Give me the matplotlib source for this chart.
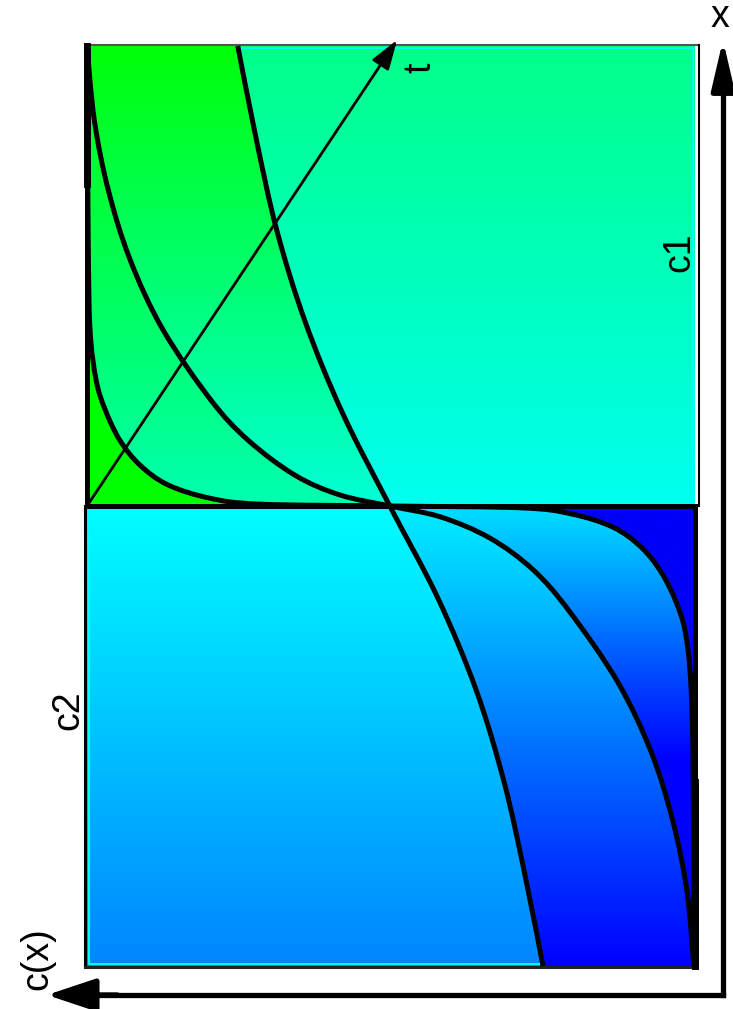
import matplotlib as mpl
mpl.use('Agg')
import matplotlib.pyplot as plt
from matplotlib.patches import PathPatch
from matplotlib.path import Path
from matplotlib.colors import LinearSegmentedColormap
import numpy as np

plt.rcParams['font.family'] = ['Liberation Sans', 'DejaVu Sans']

# concentration profiles c(x) for three times, c in [0, 1], x in [-1, 1]
# t1 (shortest time)
t1_x_up = [1.0, 0.578, 0.383, 0.274, 0.209, 0.143, 0.089, 0.046, 0.017, 0.004, 0.0]
t1_c_up = [1.0, 0.998, 0.995, 0.985, 0.970, 0.946, 0.913, 0.867, 0.798, 0.715, 0.502]
t1_x_lo = [0.0, -0.004, -0.017, -0.046, -0.089, -0.143, -0.209, -0.274, -0.383, -0.578, -1.0]
t1_c_lo = [0.502, 0.286, 0.204, 0.135, 0.089, 0.056, 0.031, 0.016, 0.007, 0.003, 0.002]
# t2
t2_x_up = [1.0, 0.839, 0.687, 0.535, 0.383, 0.230, 0.143, 0.067, 0.024, 0.0]
t2_c_up = [1.0, 0.988, 0.965, 0.929, 0.875, 0.796, 0.735, 0.658, 0.584, 0.502]
t2_x_lo = [0.0, -0.024, -0.070, -0.139, -0.230, -0.383, -0.535, -0.687, -0.839, -1.0]
t2_c_lo = [0.502, 0.418, 0.337, 0.266, 0.206, 0.127, 0.072, 0.036, 0.013, 0.002]
# t3 (longest time)
t3_x_up = [1.0, 0.8, 0.6, 0.4, 0.2, 0.0]
t3_c_up = [0.752, 0.722, 0.688, 0.641, 0.579, 0.502]
t3_x_lo = [0.0, -0.2, -0.4, -0.6, -0.8, -1.0]
t3_c_lo = [0.502, 0.423, 0.360, 0.314, 0.280, 0.250]


def bezier_ctrl(cs, xs):
    # cubic bezier control points of a catmull-rom curve through the points
    p = np.column_stack([cs, xs]).astype(float)
    ext = np.vstack([p[0], p, p[-1]])
    v = [p[0]]
    for i in range(len(p) - 1):
        a, b, c, d = ext[i], ext[i + 1], ext[i + 2], ext[i + 3]
        v += [b + (c - a) / 6, c - (d - b) / 6, c]
    return np.array(v)


def profile(cu, xu, cl, xl):
    v = bezier_ctrl(cu + cl[1:], xu + xl[1:])
    m = 3 * (len(cu) - 1)
    return v, v[:m + 1], v[m:]


def region(pieces):
    verts, codes = [], []
    for kind, v in pieces:
        v = np.asarray(v, float)
        if kind == 'curve':
            verts.append(v[0])
            codes.append(Path.LINETO if codes else Path.MOVETO)
            verts.extend(v[1:])
            codes.extend([Path.CURVE4] * (len(v) - 1))
        else:
            for q in v:
                verts.append(q)
                codes.append(Path.LINETO if codes else Path.MOVETO)
    verts.append(verts[0])
    codes.append(Path.CLOSEPOLY)
    return Path(verts, codes)


def grad_fill(ax, path, stops, x_top, x_bot):
    patch = PathPatch(path, facecolor='none', edgecolor='none')
    ax.add_patch(patch)
    cmap = LinearSegmentedColormap.from_list('g', stops)
    im = ax.imshow(np.linspace(0, 1, 256).reshape(-1, 1), cmap=cmap, vmin=0, vmax=1,
                   extent=(1.01, -0.01, x_bot, x_top), aspect='auto', interpolation='bilinear',
                   zorder=1)
    im.set_clip_path(patch)


fig = plt.figure(figsize=(7.33, 10.09), dpi=100)
ax = fig.add_axes([0, 0, 1, 1])
ax.set_axis_off()

t1, t1u, t1l = profile(t1_c_up, t1_x_up, t1_c_lo, t1_x_lo)
t2, t2u, t2l = profile(t2_c_up, t2_x_up, t2_c_lo, t2_x_lo)
t3, t3u, t3l = profile(t3_c_up, t3_x_up, t3_c_lo, t3_x_lo)

# x > 0 half
grad_fill(ax, region([('line', [(1, 0), (1, 1)]), ('curve', t1u)]),
          ['#00ff00', '#00ff00'], 1, 0)
grad_fill(ax, region([('curve', t1u), ('curve', t2u[::-1])]),
          ['#00ff00', '#00ffb0'], 1, 0)
grad_fill(ax, region([('curve', t2u), ('curve', t3u[::-1])]),
          ['#00ff08', '#00ffd8'], 1, 0)
grad_fill(ax, region([('curve', t3u), ('line', [(0, 0), (0, 1)])]),
          ['#00ff88', '#00fff0'], 1, 0)

# x < 0 half
grad_fill(ax, region([('line', [(1, 0)]), ('curve', t3l), ('line', [(1, -1)])]),
          ['#00ffff', '#0085ff'], 0, -1)
grad_fill(ax, region([('curve', t3l), ('curve', t2l[::-1])]),
          ['#00f0ff', '#0000ff'], 0, -1)
grad_fill(ax, region([('curve', t2l), ('curve', t1l[::-1])]),
          [(0, '#00e0ff'), (0.55, '#0000ff'), (1, '#0000ff')], 0, -1)
grad_fill(ax, region([('curve', t1l), ('line', [(0, 0)])]),
          ['#0000f8', '#0000f8'], 0, -1)

# light rims along the frame
ax.plot([0.75, 0.003, 0.003], [0.995, 0.995, 0.005], color='#00ffff', lw=1.2, zorder=2)
ax.plot([0.997, 0.997, 0.25], [-0.005, -0.995, -0.995], color='#00ffff', lw=1.4, zorder=2)

# frame
ax.plot([1, -0.006], [1.002, 1.002], color='#555555', lw=1.5, zorder=3)
ax.plot([-0.006, -0.006], [1.002, 0], color='black', lw=1.5, zorder=3)
ax.plot([1.004, 1.004], [0, -1.003], color='black', lw=2.2, zorder=3)
ax.plot([1.004, 0], [-1.003, -1.003], color='#222222', lw=2.2, zorder=3)

# initial step
ax.plot([1, 1, 0, 0], [1, 0, 0, -1], color='black', lw=3.6, zorder=4, solid_joinstyle='miter')
ax.plot([1, 1], [1, 0.7], color='black', lw=5, zorder=4)
ax.plot([0, 0], [-0.6, -1], color='black', lw=5, zorder=4)

# profiles
for v in (t1, t2, t3):
    codes = [Path.MOVETO] + [Path.CURVE4] * (len(v) - 1)
    ax.add_patch(PathPatch(Path(v, codes), fill=False, edgecolor='black', lw=3.6,
                           zorder=5, capstyle='butt'))

# time arrow
ax.annotate('', xy=(0.49, 1.013), xytext=(1.0, 0.0),
            arrowprops=dict(arrowstyle='-|>,head_length=0.9,head_width=0.3', lw=2.0,
                            color='black', shrinkA=0, shrinkB=0, mutation_scale=20), zorder=6)

# coordinate axes
ax_c, ax_x = -0.046, -1.063
ax.plot([ax_c, ax_c], [ax_x, 0.95], color='black', lw=3.8, zorder=6, solid_capstyle='projecting')
ax.plot([ax_c, 1.0], [ax_x, ax_x], color='black', lw=3.8, zorder=6, solid_capstyle='projecting')
ax.annotate('', xy=(ax_c, 1.013), xytext=(ax_c, 0.9),
            arrowprops=dict(arrowstyle='-|>,head_length=1.5,head_width=0.35', lw=3.8,
                            color='black', shrinkA=0, shrinkB=0, mutation_scale=20), zorder=6)
ax.annotate('', xy=(1.066, ax_x), xytext=(0.95, ax_x),
            arrowprops=dict(arrowstyle='-|>,head_length=1.5,head_width=0.5', lw=3.8,
                            color='black', shrinkA=0, shrinkB=0, mutation_scale=20), zorder=6)

fs = 27
ax.text(-0.041, 1.062, 'x', fontsize=fs, ha='center', va='center')
ax.text(0.452, 0.952, 't', fontsize=fs, rotation=90, ha='center', va='center')
ax.text(0.025, 0.552, 'c1', fontsize=fs, rotation=90, ha='center', va='center')
ax.text(1.031, -0.443, 'c2', fontsize=fs, rotation=90, ha='center', va='center')
ax.text(1.082, -0.983, 'c(x)', fontsize=fs, rotation=90, ha='center', va='center')

ax.set_xlim(695 / 608, (695 - 733) / 608)
ax.set_ylim((506 - 1009) / 460, 506 / 460)

fig.savefig('out.png', dpi=100)
